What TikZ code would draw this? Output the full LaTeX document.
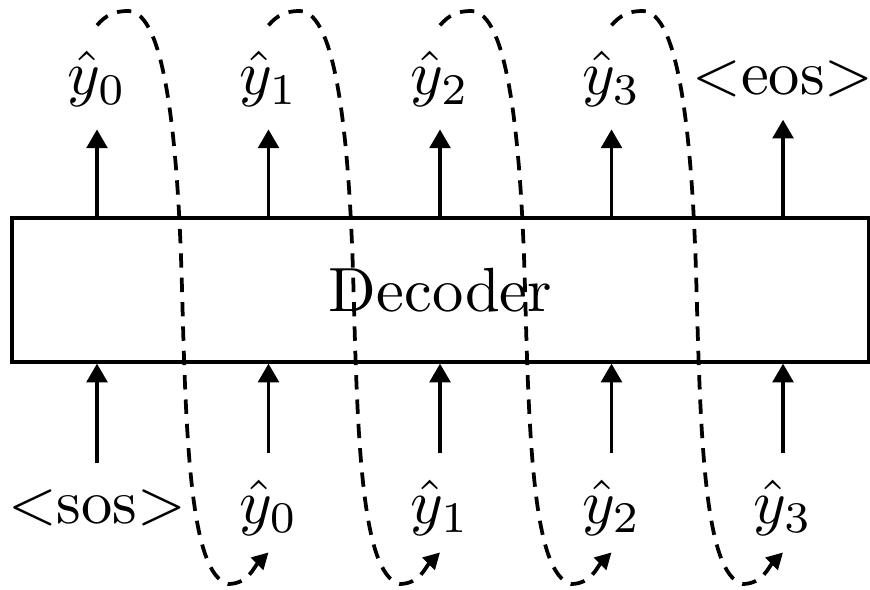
\documentclass[tikz,border=0pt]{standalone}
\usepackage{amsmath}
\usetikzlibrary{arrows.meta, calc, positioning}

\tikzset{
  lbl/.style={inner sep=0pt, anchor=base},
  flow/.style={line width=0.6pt, -{Triangle[length=3pt, width=3.3pt]}},
  feedback/.style={line width=0.6pt, dash pattern=on 2.3pt off 1.6pt, -{Triangle[length=2.6pt, width=2.7pt]}},
}

\begin{document}
\begin{tikzpicture}[x=0.16pt, y=0.16pt]
\useasboundingbox (0,0) rectangle (870,589);

\node[draw, line width=0.65pt, minimum width=137pt, minimum height=22.9pt] (dec) at (440.5,299) {Decoder};

% outputs on top, inputs below
\foreach \i/\x in {0/97, 1/268.5, 2/440, 3/611.5} {
  \node[lbl] (out\i) at (\x,494) {$\hat{y}_\i$};
}
\node[lbl] (out4) at (783,494) {$<$eos$>$};

\node[lbl] (in0) at (97,66) {$<$sos$>$};
\foreach \i/\x in {1/268.5, 2/440, 3/611.5, 4/783} {
  \pgfmathtruncatemacro{\k}{\i-1}
  \node[lbl] (in\i) at (\x,66) {$\hat{y}_\k$};
}

\foreach \i in {0,...,4} {
  \draw[flow] (dec.north -| out\i) -- ($(out\i.south)+(0,-21)$);
  \draw[flow] ($(in\i.north)+(0,25)$) -- (dec.south -| in\i);
}

% each prediction is fed back as the next input
\foreach \i/\x in {0/97, 1/268.5, 2/440, 3/611.5} {
  \pgfmathtruncatemacro{\j}{\i+1}
  \draw[feedback] ($(out\i.north)+(0,25)$) to[out=50, in=180] (\x+31,578)
    .. controls (\x+68,578) and (\x+81,450) .. (\x+85,300)
    .. controls (\x+89,150) and (\x+93,15) .. (\x+131,5)
    to[out=0, in=-135] ($(in\j.south)+(0,-16)$);
}
\end{tikzpicture}
\end{document}
